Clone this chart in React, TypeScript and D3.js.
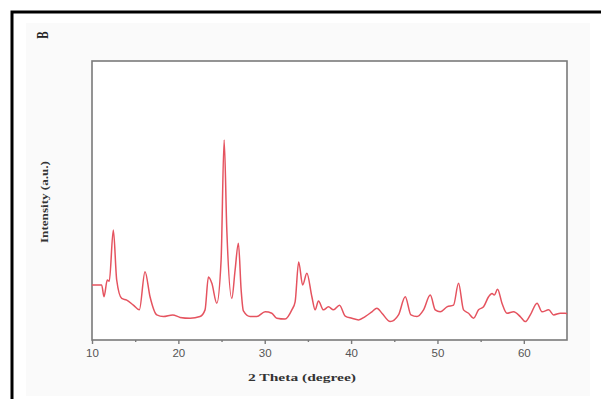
import { useEffect, useRef } from "react";
import * as d3 from "d3";

// 2 theta (degree)
const twoTheta = [
  10.0, 11.12, 11.39, 11.77, 12.0, 12.47, 12.86, 13.44, 14.02, 14.79, 15.48,
  16.14, 16.72, 17.5, 18.26, 19.35, 20.2, 21.36, 22.51, 23.09, 23.48, 23.87,
  24.45, 24.95, 25.3, 25.61, 26.19, 26.57, 26.95, 27.27, 27.53, 28.31, 29.08,
  30.05, 30.82, 31.4, 32.36, 33.14, 33.52, 33.93, 34.39, 34.88, 35.46, 35.84,
  36.22, 36.8, 37.38, 37.96, 38.66, 39.32, 40.09, 40.86, 41.63, 42.41, 42.99,
  43.57, 44.53, 45.49, 46.27, 46.93, 47.63, 48.39, 49.17, 49.74, 50.32, 51.1,
  51.86, 52.44, 53.02, 53.6, 54.18, 54.76, 55.34, 55.92, 56.32, 56.58, 56.96,
  57.47, 58.05, 58.82, 59.59, 60.17, 60.75, 61.53, 62.11, 62.88, 63.45, 64.23,
  64.81, 65.0,
];

// intensity (a.u.)
const intensity = [
  19.7, 19.7, 15.5, 21.5, 21.1, 39.4, 21.5, 14.9, 14.3, 12.5, 10.8, 24.5, 15.5,
  9.0, 8.4, 9.0, 8.1, 7.8, 8.4, 10.8, 22.6, 20.4, 13.2, 28.7, 71.7, 39.4, 14.9,
  25.1, 34.7, 17.9, 10.4, 8.4, 8.4, 10.1, 9.6, 7.8, 7.5, 10.8, 13.7, 28.0,
  19.7, 23.9, 15.5, 10.8, 14.0, 10.8, 11.9, 10.8, 12.5, 8.6, 7.8, 7.2, 8.4,
  10.1, 11.4, 9.6, 6.6, 9.0, 15.5, 9.0, 8.4, 10.8, 16.1, 10.8, 10.1, 11.9,
  12.5, 20.3, 10.8, 9.6, 7.8, 10.8, 11.9, 15.5, 16.7, 16.1, 18.2, 13.2, 9.6,
  10.1, 8.4, 6.6, 9.0, 13.2, 10.1, 10.8, 9.0, 9.6, 9.6, 9.4,
];

const xTicks = [10, 20, 30, 40, 50, 60];
const xMinorTicks = [15, 25, 35, 45, 55];

const App = () => {
  const svgRef = useRef<SVGSVGElement | null>(null);

  useEffect(() => {
    d3.select(svgRef.current).selectAll("*").remove();

    const width = 601;
    const height = 399;
    const margin = { top: 61, right: 34, bottom: 59, left: 92 };
    const innerW = width - margin.left - margin.right;
    const innerH = height - margin.top - margin.bottom;

    const svg = d3
      .select(svgRef.current)
      .attr("width", width)
      .attr("height", height);

    svg
      .append("rect")
      .attr("width", width)
      .attr("height", height)
      .attr("fill", "#ffffff");

    // faint panel behind the figure
    svg
      .append("rect")
      .attr("x", 26)
      .attr("y", 23)
      .attr("width", 564)
      .attr("height", 373)
      .attr("fill", "#fafafa");

    // black frame on the left and top of the image
    svg
      .append("path")
      .attr("d", `M12,${height} V12 H${width}`)
      .attr("fill", "none")
      .attr("stroke", "#000")
      .attr("stroke-width", 3);

    svg
      .append("text")
      .attr("transform", "translate(48,35) rotate(-90) scale(0.85,1.25)")
      .attr("text-anchor", "middle")
      .attr("font-family", "Liberation Serif, serif")
      .attr("font-weight", "bold")
      .attr("font-size", 13)
      .attr("fill", "#222")
      .text("B");

    const g = svg
      .append("g")
      .attr("transform", `translate(${margin.left},${margin.top})`);

    const x = d3.scaleLinear().domain([10, 65]).range([0, innerW]);
    const y = d3.scaleLinear().domain([0, 100]).range([innerH, 0]);

    g.append("rect")
      .attr("width", innerW)
      .attr("height", innerH)
      .attr("fill", "#ffffff")
      .attr("stroke", "#7a7a7a")
      .attr("stroke-width", 1.6);

    const xAxis = g
      .append("g")
      .attr("transform", `translate(0,${innerH})`)
      .call(
        d3
          .axisBottom(x)
          .tickValues(xTicks)
          .tickSize(4)
          .tickPadding(5)
          .tickFormat(d3.format("d")),
      );
    xAxis.select(".domain").remove();
    xAxis.selectAll("line").attr("stroke", "#7a7a7a").attr("stroke-width", 1.4);
    xAxis
      .selectAll("text")
      .attr("fill", "#555")
      .attr("font-family", "Liberation Sans, Arial, sans-serif")
      .attr("font-size", 11.5);

    const minor = g
      .append("g")
      .attr("transform", `translate(0,${innerH})`)
      .call(d3.axisBottom(x).tickValues(xMinorTicks).tickSize(2).tickFormat(() => ""));
    minor.select(".domain").remove();
    minor.selectAll("line").attr("stroke", "#7a7a7a").attr("stroke-width", 1.4);

    const data = twoTheta.map((t, i) => ({ t, v: intensity[i] }));
    const line = d3
      .line<{ t: number; v: number }>()
      .x((d) => x(d.t))
      .y((d) => y(d.v))
      .curve(d3.curveMonotoneX);

    g.append("path")
      .datum(data)
      .attr("d", line)
      .attr("fill", "none")
      .attr("stroke", "#e5535f")
      .attr("stroke-width", 1.5)
      .attr("stroke-linejoin", "round");

    svg
      .append("text")
      .attr("x", 248)
      .attr("y", 381)
      .attr("textLength", 108)
      .attr("lengthAdjust", "spacingAndGlyphs")
      .attr("font-family", "Liberation Serif, serif")
      .attr("font-weight", "bold")
      .attr("font-size", 11)
      .attr("fill", "#333")
      .text("2 Theta (degree)");

    svg
      .append("text")
      .attr("transform", `translate(48,243) rotate(-90)`)
      .attr("textLength", 82)
      .attr("lengthAdjust", "spacingAndGlyphs")
      .attr("font-family", "Liberation Serif, serif")
      .attr("font-weight", "bold")
      .attr("font-size", 11)
      .attr("fill", "#333")
      .text("Intensity (a.u.)");
  });

  return (
    <svg
      ref={svgRef}
      style={{ position: "absolute", left: 0, top: 0, display: "block" }}
    />
  );
};

export default App;
